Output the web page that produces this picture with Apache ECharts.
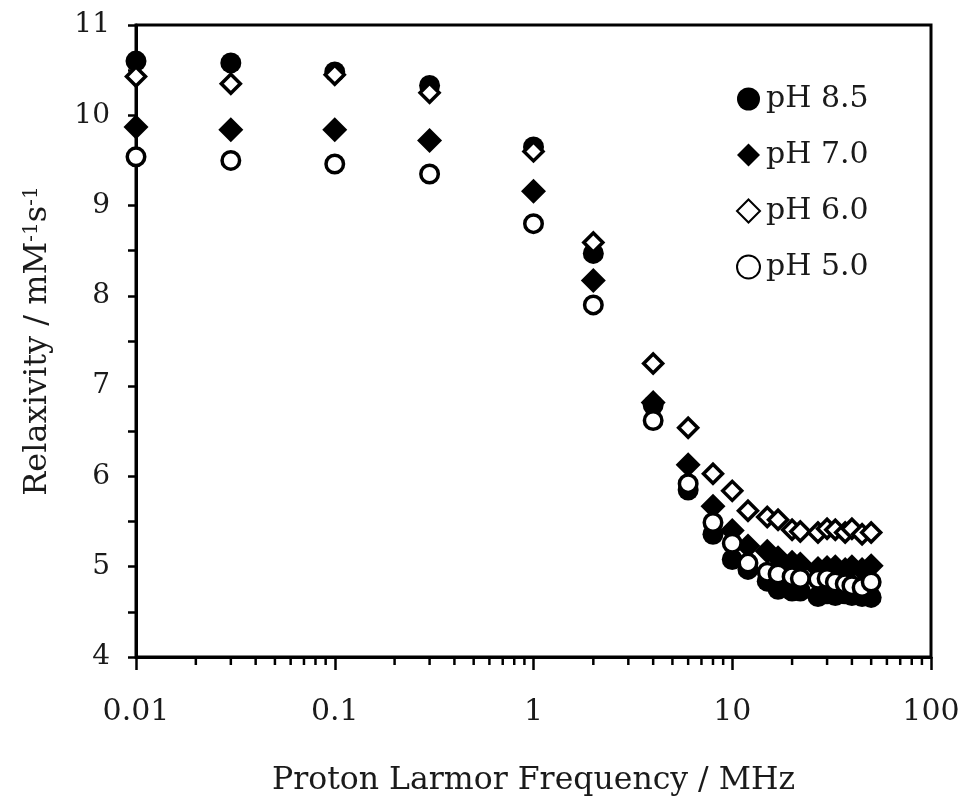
<!DOCTYPE html>
<html>
<head>
<meta charset="utf-8">
<script src="https://cdn.jsdelivr.net/npm/echarts@6/dist/echarts.min.js"></script>
<style>html,body{margin:0;padding:0;background:#fff}#c{width:963px;height:802px}</style>
</head>
<body>
<div id="c"></div>
<script>
// Proton Larmor frequency (MHz)
const freq = [0.01, 0.03, 0.1, 0.3, 1, 2, 4, 6, 8, 10, 12, 15, 17, 20, 22, 27, 30, 33, 37, 40, 45, 50];
// Relaxivity (mM^-1 s^-1)
const pH85 = [10.60, 10.58, 10.48, 10.33, 9.65, 8.47, 6.79, 5.85, 5.36, 5.08, 4.97, 4.84, 4.75, 4.73, 4.73, 4.67, 4.70, 4.68, 4.70, 4.68, 4.67, 4.66];
const pH70 = [9.87, 9.84, 9.84, 9.72, 9.16, 8.17, 6.82, 6.13, 5.67, 5.40, 5.23, 5.17, 5.10, 5.05, 5.03, 4.98, 4.99, 5.00, 4.97, 5.00, 4.97, 5.01];
const pH60 = [10.43, 10.35, 10.45, 10.25, 9.60, 8.59, 7.25, 6.54, 6.03, 5.84, 5.62, 5.55, 5.52, 5.41, 5.39, 5.38, 5.42, 5.41, 5.38, 5.42, 5.36, 5.38];
const pH50 = [9.54, 9.50, 9.46, 9.35, 8.80, 7.90, 6.62, 5.92, 5.49, 5.26, 5.04, 4.94, 4.92, 4.89, 4.87, 4.86, 4.87, 4.83, 4.81, 4.79, 4.77, 4.83];
const seriesNames = ['pH 8.5', 'pH 7.0', 'pH 6.0', 'pH 5.0'];
// log-axis minor tick positions
const minorTicks = [0.02,0.03,0.04,0.05,0.06,0.07,0.08,0.09, 0.2,0.3,0.4,0.5,0.6,0.7,0.8,0.9, 2,3,4,5,6,7,8,9, 20,30,40,50,60,70,80,90];
const xTickLabels = {0.01: '0.01', 0.1: '0.1', 1: '1', 10: '10', 100: '100'};
const yMin = 4, yMax = 11;

const FONT = 'DejaVu Serif';
const TXT = '#1a1a1a';
const zip = a => freq.map((f, i) => [f, a[i]]);

const chart = echarts.init(document.getElementById('c'), null, {renderer: 'canvas'});
chart.setOption({
  backgroundColor: '#fff',
  animation: false,
  grid: {left: 136, right: 32, top: 25, bottom: 136, show: true, borderColor: '#000', borderWidth: 3, backgroundColor: 'transparent'},
  legend: {
    orient: 'vertical', left: 731, top: 79, itemGap: 26, itemWidth: 23, itemHeight: 23,
    data: seriesNames,
    textStyle: {fontFamily: FONT, fontSize: 30, color: TXT, padding: [0, 0, 0, 1]}
  },
  xAxis: {
    type: 'log', logBase: 10, min: 0.01, max: 100,
    name: 'Proton Larmor Frequency / MHz', nameLocation: 'middle', nameGap: 108,
    nameTextStyle: {fontFamily: FONT, fontSize: 31.5, color: TXT},
    axisLine: {show: true, lineStyle: {color: '#000', width: 3}},
    axisTick: {show: true, inside: false, length: 13, lineStyle: {color: '#000', width: 2.5}},
    axisLabel: {fontFamily: FONT, fontSize: 30, color: TXT, margin: 40,
      formatter: v => xTickLabels[+v.toPrecision(3)] ?? String(v)},
    splitLine: {show: false}
  },
  yAxis: {
    type: 'value', min: yMin, max: yMax, interval: 1,
    name: 'Relaxivity / mM{sup|-1}s{sup|-1}', nameLocation: 'middle', nameGap: 82, nameRotate: 90,
    nameTextStyle: {fontFamily: FONT, fontSize: 32, color: TXT,
      rich: {sup: {fontFamily: FONT, fontSize: 20, color: TXT, verticalAlign: 'top', lineHeight: 32}}},
    axisLine: {show: true, lineStyle: {color: '#000', width: 3}},
    axisTick: {show: true, inside: false, length: 8, lineStyle: {color: '#000', width: 2.5}},
    minorTick: {show: true, splitNumber: 2, length: 8, lineStyle: {color: '#000', width: 2.5}},
    axisLabel: {fontFamily: FONT, fontSize: 28, color: TXT, margin: 26},
    splitLine: {show: false}, minorSplitLine: {show: false}
  },
  series: [
    {name: 'pH 8.5', type: 'scatter', data: zip(pH85), symbol: 'circle', symbolSize: 21,
      itemStyle: {color: '#000', opacity: 1}},
    {name: 'pH 7.0', type: 'scatter', data: zip(pH70), symbol: 'diamond', symbolSize: 25,
      itemStyle: {color: '#000', opacity: 1}},
    {name: 'pH 6.0', type: 'scatter', data: zip(pH60), symbol: 'diamond', symbolSize: 19,
      itemStyle: {color: '#fff', borderColor: '#000', borderWidth: 3.5, opacity: 1}},
    {name: 'pH 5.0', type: 'scatter', data: zip(pH50), symbol: 'circle', symbolSize: 17.5,
      itemStyle: {color: '#fff', borderColor: '#000', borderWidth: 3.5, opacity: 1}},
    {name: 'minorTicks', type: 'custom', silent: true, clip: false, z: 5,
      data: minorTicks.map(v => [v, yMin]),
      renderItem: (params, api) => {
        const p = api.coord([api.value(0), api.value(1)]);
        return {type: 'line', shape: {x1: p[0], y1: p[1], x2: p[0], y2: p[1] + 8},
          style: {stroke: '#000', lineWidth: 2.5}};
      }}
  ]
});
</script>
</body>
</html>
